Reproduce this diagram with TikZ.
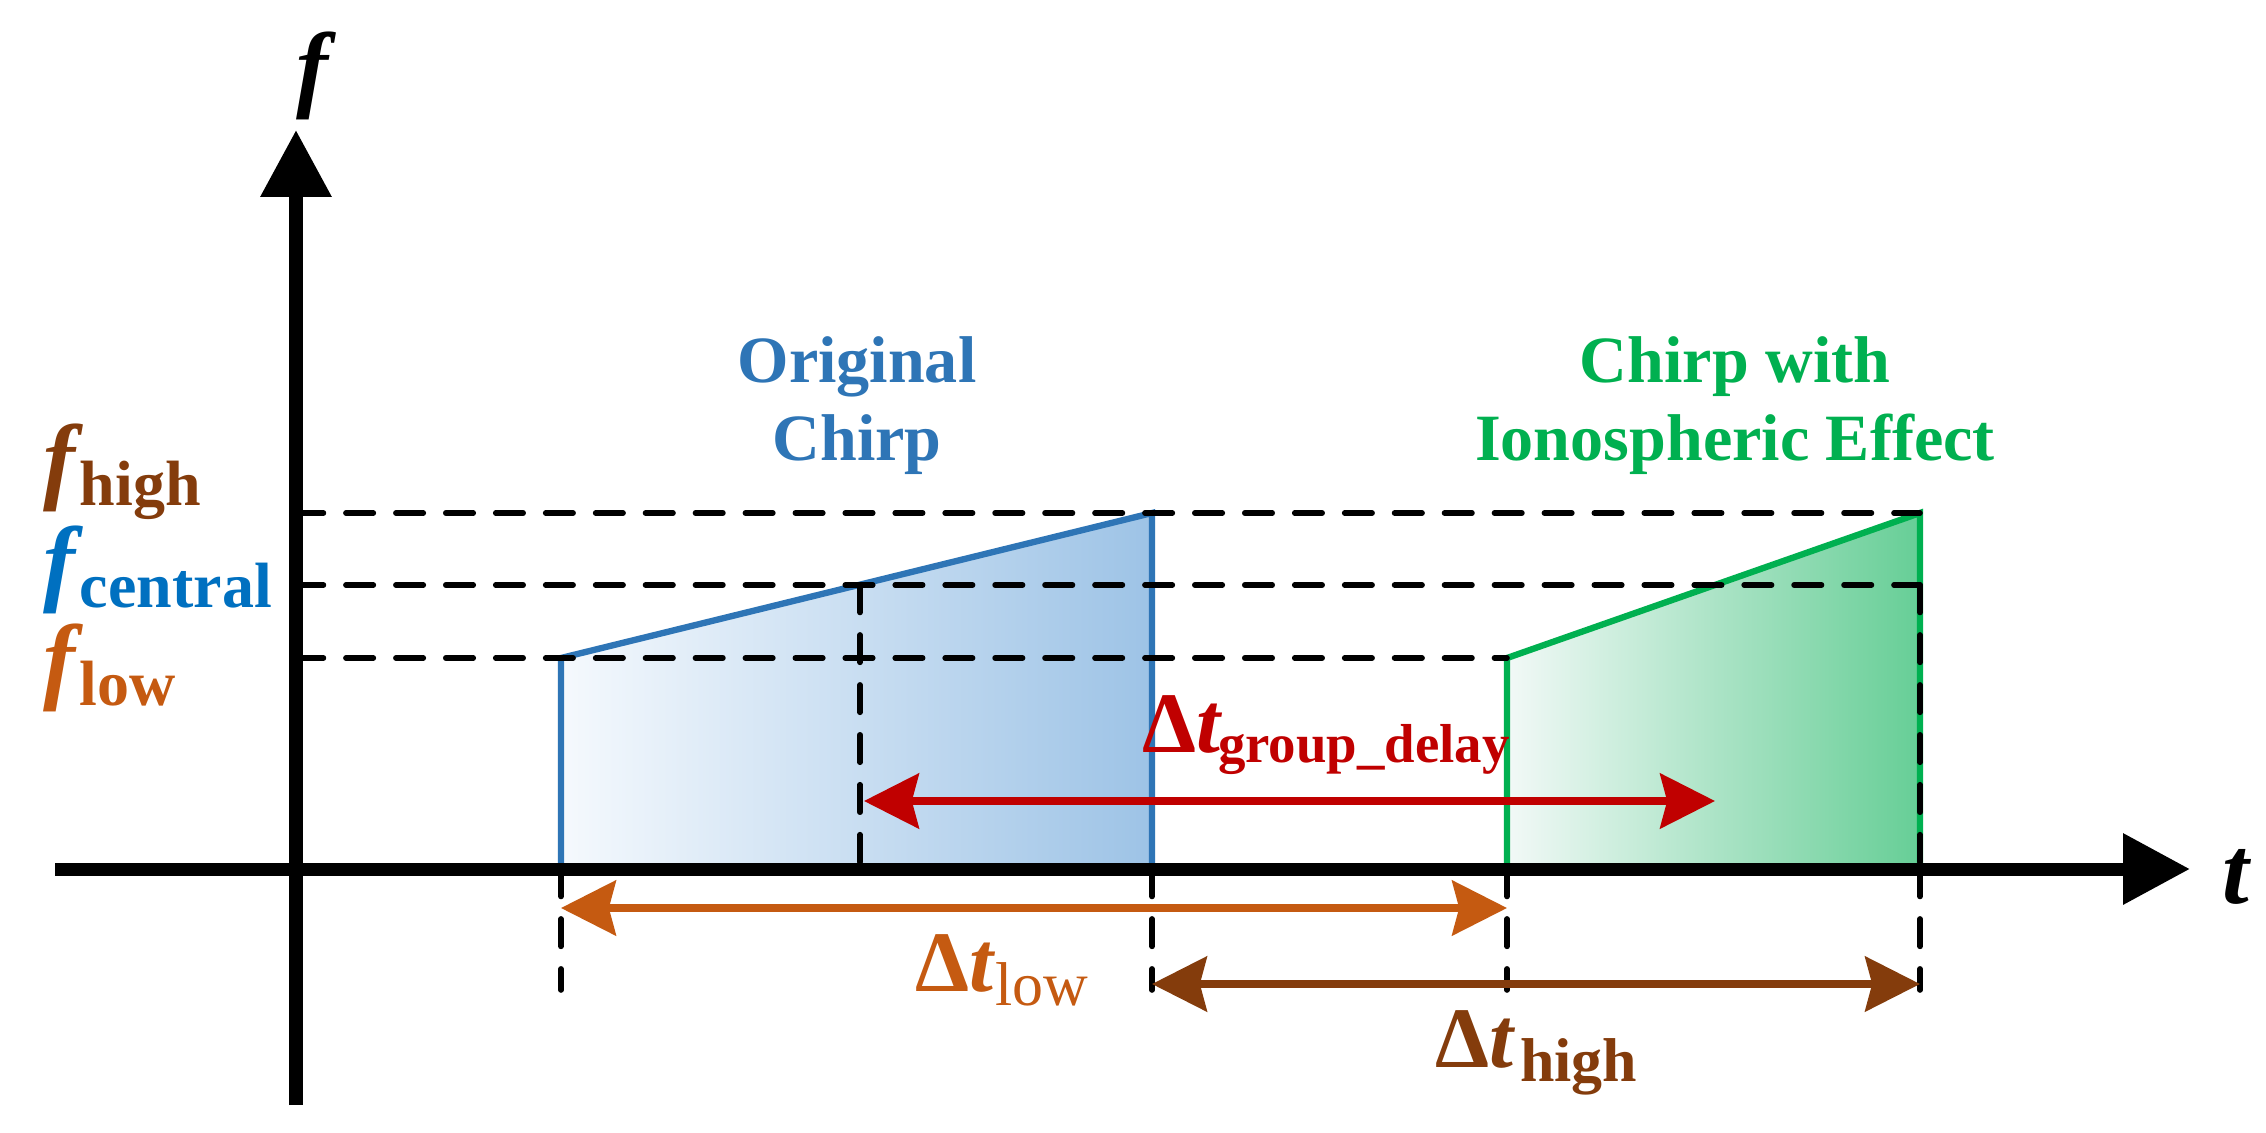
\documentclass[tikz,border=0pt]{standalone}
\usepackage{fontspec}
\setmainfont{Liberation Serif}
\usetikzlibrary{arrows.meta}
\definecolor{cBlueLine}{HTML}{2E75B6}
\definecolor{cBlueL}{HTML}{F5F9FD}
\definecolor{cBlueR}{HTML}{9DC3E6}
\definecolor{cGreen}{HTML}{00B050}
\definecolor{cGreenL}{HTML}{F2F9F7}
\definecolor{cGreenR}{HTML}{66CE96}
\definecolor{cRed}{HTML}{C00000}
\definecolor{cOrange}{HTML}{C55A11}
\definecolor{cBrown}{HTML}{843C0C}
\definecolor{cFcen}{HTML}{0070C0}
\newcommand{\myfs}[1]{\fontsize{#1}{#1}\selectfont}
\begin{document}
\begin{tikzpicture}[x=0.01cm,y=-0.01cm,
  axisline/.style={line width=3.7pt, -{Triangle[length=19pt,width=19.3pt]}},
  guide/.style={line width=1.6pt, line cap=round, dash pattern=on 7.8pt off 6.4pt},
  chirpline/.style={line width=1.8pt, line join=miter},
  dimarrow/.style={line width=2pt, {Stealth[length=15.6pt,width=15.6pt,inset=2pt]}-{Stealth[length=15.6pt,width=15.6pt,inset=2pt]}},
  lbl/.style={inner sep=0pt, outer sep=0pt},
  captext/.style={lbl, anchor=base, font=\myfs{18.8pt}\bfseries},
  bigf/.style={lbl, anchor=base, font=\myfs{27.3pt}\bfseries\itshape},
  fsub/.style={lbl, anchor=base west, font=\myfs{18.2pt}\bfseries},
  dtlab/.style={lbl, anchor=base west, font=\myfs{24.5pt}\bfseries},
  dtsub/.style={lbl, anchor=base west, font=\myfs{17.6pt}\bfseries}
]
\path[use as bounding box, fill=white] (0,0) rectangle (2266,1133);

% coordinates
\coordinate (ytip) at (296,130);
\coordinate (ybot) at (296,1105);
\coordinate (xl) at (55,869);
\coordinate (xtip) at (2190,869);
\coordinate (bA) at (561,869);
\coordinate (bB) at (561,658);
\coordinate (bC) at (1152,513);
\coordinate (bD) at (1152,869);
\coordinate (bM) at (860,585);
\coordinate (bMd) at (860,869);
\coordinate (gA) at (1507,869);
\coordinate (gB) at (1507,658);
\coordinate (gC) at (1920,513);
\coordinate (gD) at (1920,869);
\coordinate (gM) at (1920,585);
\coordinate (hH) at (296,513);
\coordinate (hC) at (296,585);
\coordinate (hL) at (296,658);
\coordinate (bA2) at (561,990);
\coordinate (bD2) at (1152,990);
\coordinate (gA2) at (1507,990);
\coordinate (gD2) at (1920,990);
\coordinate (rL) at (864,801);
\coordinate (rR) at (1715,801);
\coordinate (oL) at (561,908);
\coordinate (oR) at (1507,908);
\coordinate (wL) at (1152,984);
\coordinate (wR) at (1920,984);

% chirp fills
\shade[left color=cBlueL, right color=cBlueR] (bA) -- (bB) -- (bC) -- (bD) -- cycle;
\shade[left color=cGreenL, right color=cGreenR] (gA) -- (gB) -- (gC) -- (gD) -- cycle;
\draw[chirpline, cBlueLine] (bA) -- (bB) -- (bC) -- (bD);
\draw[chirpline, cGreen] (gA) -- (gB) -- (gC) -- (gD);

% guides
\draw[guide] (hH) -- (gC);
\draw[guide] (hC) -- (gM);
\draw[guide] (hL) -- (gB);
\draw[guide] (bM) -- (bMd);
\draw[guide] (gM) -- (gD);
\draw[guide] (bA) -- (bA2);
\draw[guide] (bD) -- (bD2);
\draw[guide] (gA) -- (gA2);
\draw[guide] (gD) -- (gD2);

% axes
\draw[axisline] (ybot) -- (ytip);
\draw[axisline] (xl) -- (xtip);

% dimension arrows
\draw[dimarrow, cRed] (rL) -- (rR);
\draw[dimarrow, cOrange] (oL) -- (oR);
\draw[dimarrow, cBrown] (wL) -- (wR);

% axis labels
\node[bigf] (flab) at (312,99) {f};
\node[bigf] (tlab) at (2236,903) {t};

% frequency labels
\node[bigf, text=cBrown] (fh) at (59,491) {f};
\node[fsub, text=cBrown] (fhs) at (80,505) {high};
\node[bigf, text=cFcen] (fc) at (59,593) {f};
\node[fsub, text=cFcen] (fcs) at (80,607) {central};
\node[bigf, text=cOrange] (fl) at (59,691) {f};
\node[fsub, text=cOrange] (fls) at (80,705) {low};

% captions
\node[captext, text=cBlueLine] (oc1) at (857,382) {Original};
\node[captext, text=cBlueLine] (oc2) at (857,460) {Chirp};
\node[captext, text=cGreen] (gc1) at (1735,382) {Chirp with};
\node[captext, text=cGreen] (gc2) at (1735,460) {Ionospheric Effect};

% delta labels
\node[dtlab, text=cRed] (dg) at (1142,752) {Δ\textit{t}};
\node[dtsub, text=cRed, font=\myfs{15.6pt}\bfseries] (dgs) at (1218,762) {group\_delay};
\node[dtlab, text=cOrange] (dl) at (915,991) {Δ\textit{t}};
\node[dtsub, text=cOrange, font=\myfs{17.6pt}] (dls) at (995,1005) {low};
\node[dtlab, text=cBrown] (dh) at (1435,1067) {Δ\textit{t}};
\node[dtsub, text=cBrown] (dhs) at (1520,1081) {high};
\end{tikzpicture}
\end{document}
